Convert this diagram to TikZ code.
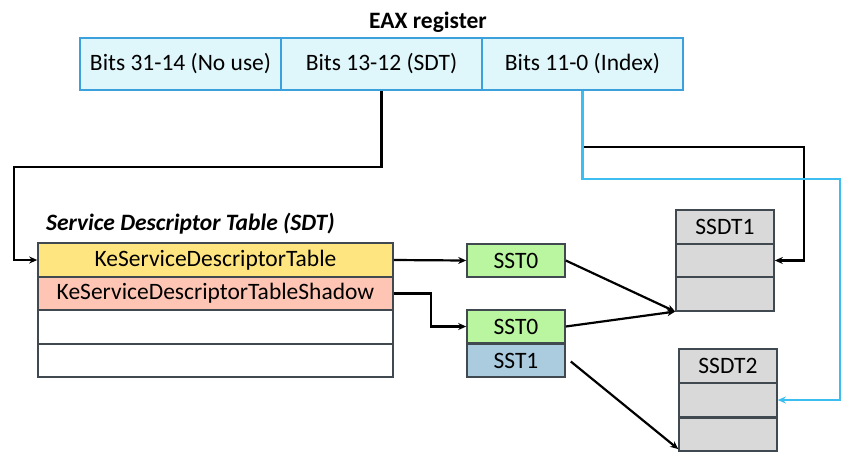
\documentclass[tikz,border=0pt]{standalone}
\usepackage{fontspec}
\setmainfont{Carlito}
\usepackage{tikz}
\usetikzlibrary{arrows.meta}

\definecolor{eaxfill}{RGB}{223,246,251}
\definecolor{eaxline}{RGB}{60,160,220}
\definecolor{kstfill}{RGB}{255,229,128}
\definecolor{shdfill}{RGB}{255,197,180}
\definecolor{sstfill}{RGB}{186,245,160}
\definecolor{sstbfill}{RGB}{170,204,222}
\definecolor{ssdtfill}{RGB}{217,217,217}
\definecolor{boxline}{RGB}{64,72,80}
\definecolor{idxline}{RGB}{60,190,240}

\begin{document}
\begin{tikzpicture}[x=1pt,y=-1pt]
    \tikzstyle{every node}=[font=\fontsize{23.5}{27}\selectfont,inner sep=0pt]
    \tikzstyle{cell}=[rectangle,draw=boxline,line width=1.6pt,minimum height=33.5pt]
    \tikzstyle{eaxcell}=[rectangle,draw=eaxline,fill=eaxfill,line width=1.6pt,minimum width=201pt,minimum height=52pt]
    \tikzstyle{sdtrow}=[cell,minimum width=355pt]
    \tikzstyle{sstbox}=[cell,minimum width=98pt]
    \tikzstyle{ssdtbox}=[cell,fill=ssdtfill,minimum width=98pt]
    \tikzstyle{conn}=[line width=2.2pt,-{Stealth[length=8pt,width=7pt]}]
    \useasboundingbox (0,0) rectangle (850,459);

    % EAX register
    \node (eaxtitle) at (428,22) {\bfseries EAX register};
    \node[eaxcell] (eaxa) at (180.5,64) {Bits 31-14 (No use)};
    \node[eaxcell] (eaxb) at (381.5,64) {Bits 13-12 (SDT)};
    \node[eaxcell] (eaxc) at (582.5,64) {Bits 11-0 (Index)};

    % Service Descriptor Table
    \node[anchor=west] (sdttitle) at (46,224) {\bfseries\itshape Service Descriptor Table (SDT)};
    \node[sdtrow,fill=kstfill] (kst) at (215.5,260) {KeServiceDescriptorTable};
    \node[sdtrow,fill=shdfill] (shd) at (215.5,293.5) {KeServiceDescriptorTableShadow};
    \node[sdtrow,fill=white] (sdtc) at (215.5,327) {};
    \node[sdtrow,fill=white] (sdtd) at (215.5,360.5) {};

    % SST
    \node[sstbox,fill=sstfill] (ssta) at (516,260.5) {SST0};
    \node[sstbox,fill=sstfill] (sstb) at (516,326.5) {SST0};
    \node[sstbox,fill=sstbfill] (sstc) at (516,360.5) {SST1};

    % SSDT
    \node[ssdtbox] (ssdta) at (725,227) {SSDT1};
    \node[ssdtbox] (ssdtb) at (725,260.5) {};
    \node[ssdtbox] (ssdtc) at (725,294) {};
    \node[ssdtbox] (ssdtd) at (728,366) {SSDT2};
    \node[ssdtbox] (ssdte) at (728,400) {};
    \node[ssdtbox] (ssdtf) at (728,434.5) {};

    % connectors
    \draw[conn] (eaxb.south) -- ++(0,76) -| ([xshift=-23pt]kst.west) -- (kst.west);
    \draw[conn] ([xshift=-1pt,yshift=-56pt]eaxc.south) -| ([xshift=29pt]ssdtb.east) -- (ssdtb.east);
    \draw[conn,idxline] (eaxc.south) -- ++(0,88) -| ([xshift=62pt]ssdte.east) -- (ssdte.east);
    \draw[conn] (kst.east) -- (ssta.west);
    \draw[conn] (shd.east) -- ++(37,0) |- (sstb.west);
    \draw[conn] (ssta.east) -- (ssdtc.south west);
    \draw[conn] (sstb.east) -- (ssdtc.south west);
    \draw[conn] ([xshift=5pt,yshift=-1pt]sstc.east) -- ([yshift=3pt]ssdtf.south west);
\end{tikzpicture}
\end{document}
